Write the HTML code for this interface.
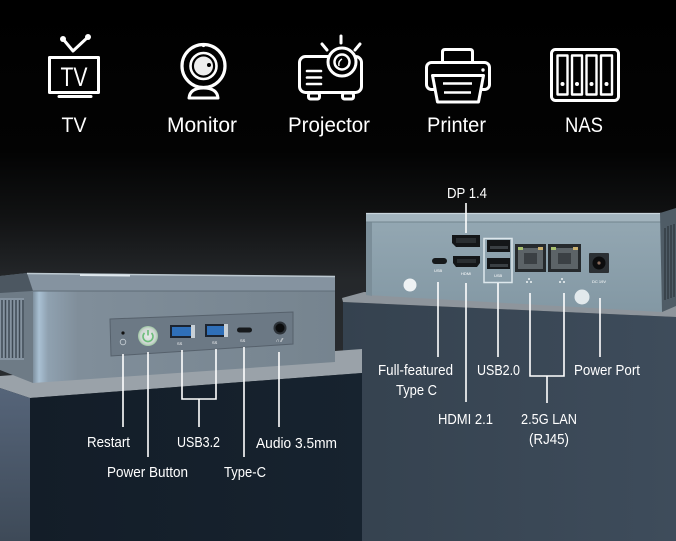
<!DOCTYPE html>
<html><head><meta charset="utf-8"><style>
html,body{margin:0;padding:0;background:#000;}
svg{display:block}
text{font-family:"Liberation Sans",sans-serif;fill:#fff}
</style></head><body>
<svg width="676" height="541" viewBox="0 0 676 541" xmlns="http://www.w3.org/2000/svg">
<defs>
<linearGradient id="bg" x1="0" y1="0" x2="0" y2="541" gradientUnits="userSpaceOnUse">
 <stop offset="0" stop-color="#000"/>
 <stop offset="0.28" stop-color="#030303"/>
 <stop offset="0.40" stop-color="#111213"/>
 <stop offset="0.52" stop-color="#25282b"/>
 <stop offset="1" stop-color="#2e3236"/>
</linearGradient>
<linearGradient id="lfront" x1="33" y1="0" x2="335" y2="0" gradientUnits="userSpaceOnUse">
 <stop offset="0" stop-color="#7e909f"/>
 <stop offset="0.02" stop-color="#a9c0d3"/>
 <stop offset="0.05" stop-color="#8fa1b0"/>
 <stop offset="0.15" stop-color="#808e9a"/>
 <stop offset="1" stop-color="#76848f"/>
</linearGradient>
<linearGradient id="rfront" x1="0" y1="222" x2="0" y2="312" gradientUnits="userSpaceOnUse">
 <stop offset="0" stop-color="#93a7b2"/>
 <stop offset="1" stop-color="#8398a4"/>
</linearGradient>
<linearGradient id="lped" x1="30" y1="0" x2="362" y2="0" gradientUnits="userSpaceOnUse">
 <stop offset="0" stop-color="#131d28"/>
 <stop offset="1" stop-color="#17232f"/>
</linearGradient>
<linearGradient id="rped" x1="343" y1="0" x2="676" y2="0" gradientUnits="userSpaceOnUse">
 <stop offset="0" stop-color="#35424f"/>
 <stop offset="1" stop-color="#3e4c5b"/>
</linearGradient>
<linearGradient id="lside" x1="0" y1="385" x2="0" y2="541" gradientUnits="userSpaceOnUse">
 <stop offset="0" stop-color="#56657a"/>
 <stop offset="1" stop-color="#3e4a58"/>
</linearGradient>
<radialGradient id="pwr" cx="0.5" cy="0.5" r="0.5">
 <stop offset="0" stop-color="#e6ebe8"/>
 <stop offset="0.75" stop-color="#cfd6d3"/>
 <stop offset="1" stop-color="#9fc9a4"/>
</radialGradient>
</defs>

<rect x="0" y="0" width="676" height="541" fill="url(#bg)"/>

<!-- ===== Top icons ===== -->
<g fill="none" stroke="#fff" stroke-width="3" stroke-linejoin="round" stroke-linecap="round">
 <!-- TV -->
 <polyline points="63,39 73,51 88,37"/>
 <rect x="49.5" y="57.5" width="49" height="35"/>
 <line x1="59" y1="96.5" x2="91" y2="96.5"/>
 <!-- Monitor (webcam) -->
 <circle cx="203.5" cy="66" r="21.5" stroke-width="3.2"/>
 <circle cx="203.5" cy="66" r="13" stroke-width="2.6"/>
 <path d="M189,98 Q190,88 203.5,88 Q217,88 218,98 Z"/>
 <!-- Projector -->
 <rect x="299.5" y="56.5" width="62" height="36" rx="6"/>
 <line x1="341" y1="36" x2="341" y2="43"/>
 <line x1="322" y1="44" x2="327" y2="50"/>
 <line x1="360" y1="44" x2="355" y2="50"/>
 <line x1="307" y1="71" x2="321" y2="71" stroke-width="2.6"/>
 <line x1="307" y1="77.5" x2="321" y2="77.5" stroke-width="2.6"/>
 <line x1="307" y1="84" x2="321" y2="84" stroke-width="2.6"/>
 <rect x="308.5" y="93" width="11" height="6" rx="2"/>
 <rect x="342.5" y="93" width="11" height="6" rx="2"/>
 <!-- Printer -->
 <path d="M442.5,62 V52 Q442.5,49.5 445,49.5 H470 Q472.5,49.5 472.5,52 V62"/>
 <rect x="426.5" y="62.5" width="63" height="27" rx="5"/>
 <!-- NAS -->
 <rect x="551.5" y="49.5" width="67" height="51" rx="4"/>
 <rect x="557.5" y="55.5" width="10" height="39" stroke-width="2.4"/>
 <rect x="572" y="55.5" width="10" height="39" stroke-width="2.4"/>
 <rect x="586.5" y="55.5" width="10" height="39" stroke-width="2.4"/>
 <rect x="601" y="55.5" width="11" height="39" stroke-width="2.4"/>
</g>
<circle cx="63" cy="39" r="3" fill="#fff"/>
<circle cx="88" cy="37" r="3" fill="#fff"/>
<text x="74" y="86" text-anchor="middle" font-size="27" textLength="27" lengthAdjust="spacingAndGlyphs">TV</text>
<circle cx="203.5" cy="66" r="9.5" fill="#eee"/>
<circle cx="209" cy="65" r="2" fill="#000"/>
<circle cx="203.5" cy="45.5" r="1.6" fill="#fff"/>
<circle cx="342" cy="62" r="14" fill="#000" stroke="#fff" stroke-width="3"/>
<circle cx="342" cy="62" r="7.5" fill="none" stroke="#fff" stroke-width="2.5"/>
<path d="M339,66 Q338,61 342,59" fill="none" stroke="#fff" stroke-width="1.5"/>
<path d="M432.5,75.5 H483.5 L478.5,102 H437.5 Z" fill="#000" stroke="#fff" stroke-width="3" stroke-linejoin="round"/>
<line x1="443" y1="83.5" x2="472" y2="83.5" stroke="#fff" stroke-width="2.6"/>
<line x1="444" y1="92.5" x2="471" y2="92.5" stroke="#fff" stroke-width="2.6"/>
<circle cx="483" cy="70" r="1.7" fill="#fff"/>
<circle cx="562.5" cy="84" r="2" fill="#fff"/>
<circle cx="577" cy="84" r="2" fill="#fff"/>
<circle cx="591.5" cy="84" r="2" fill="#fff"/>
<circle cx="606.5" cy="84" r="2" fill="#fff"/>

<g font-size="21" text-anchor="middle">
 <text x="74" y="132" textLength="25" lengthAdjust="spacingAndGlyphs">TV</text>
 <text x="202" y="132" textLength="70" lengthAdjust="spacingAndGlyphs">Monitor</text>
 <text x="329" y="132" textLength="82" lengthAdjust="spacingAndGlyphs">Projector</text>
 <text x="456.5" y="132" textLength="59" lengthAdjust="spacingAndGlyphs">Printer</text>
 <text x="584" y="132" textLength="38" lengthAdjust="spacingAndGlyphs">NAS</text>
</g>

<!-- ===== Right pedestal ===== -->
<polygon points="343,302 676,317 676,541 343,541" fill="url(#rped)"/>
<polygon points="342,298 364,292 676,306 676,317 343,302" fill="#8e959c"/>

<!-- ===== Right device ===== -->
<polygon points="366,222 662,222 662,312 366,295" fill="url(#rfront)"/>
<polygon points="366,222 372,222 372,296 366,295" fill="#7b8e99"/>
<polygon points="366,213 662,213 662,222 366,222" fill="#a2b4be"/>
<line x1="366" y1="213.5" x2="662" y2="213.5" stroke="#c9d6dd" stroke-width="1.2"/>
<line x1="366" y1="222" x2="662" y2="222" stroke="#72848f" stroke-width="1"/>
<polygon points="660,213 676,208 676,306 662,312" fill="#4f5c66"/>
<g stroke="#2f383f" stroke-width="1.3">
 <line x1="665" y1="228" x2="665" y2="300"/>
 <line x1="668" y1="226" x2="668" y2="299"/>
 <line x1="671" y1="225" x2="671" y2="298"/>
 <line x1="674" y1="224" x2="674" y2="297"/>
</g>
<!-- ports right -->
<rect x="432" y="258" width="15" height="6" rx="3" fill="#16191b"/>
<path d="M452,235 H480 V247 H456 L452,243 Z" fill="#141618"/>
<rect x="456" y="238" width="20" height="5" fill="#2a2e31"/>
<path d="M453,256 H480 V263 L477,267 H456 L453,263 Z" fill="#141618"/>
<rect x="457" y="259" width="19" height="4" fill="#2a2e31"/>
<rect x="484" y="238.5" width="28" height="44" fill="none" stroke="#dde7ec" stroke-width="1.5"/>
<rect x="487" y="240" width="23" height="12" fill="#141618"/>
<rect x="490" y="246" width="18" height="3" fill="#3a3f43"/>
<rect x="487" y="258" width="23" height="11" fill="#141618"/>
<rect x="490" y="264" width="18" height="3" fill="#3a3f43"/>
<rect x="515" y="244" width="31" height="28" fill="#262a2d"/>
<rect x="518" y="248" width="25" height="21" fill="#5c6367"/>
<rect x="524" y="253" width="13" height="11" fill="#3b4044"/>
<rect x="518" y="247" width="5" height="3" fill="#a8c070"/>
<rect x="538" y="247" width="5" height="3" fill="#c9b070"/>
<rect x="548" y="244" width="33" height="28" fill="#262a2d"/>
<rect x="551" y="248" width="27" height="21" fill="#5c6367"/>
<rect x="558" y="253" width="13" height="11" fill="#3b4044"/>
<rect x="551" y="247" width="5" height="3" fill="#a8c070"/>
<rect x="573" y="247" width="5" height="3" fill="#c9b070"/>
<rect x="589" y="253" width="20" height="20" rx="1" fill="#2b3034"/>
<circle cx="599" cy="263" r="6.5" fill="#0c0d0e"/>
<circle cx="599" cy="263" r="1.6" fill="#8a6a5a"/>
<circle cx="410" cy="285" r="6.5" fill="#eef2f4"/>
<circle cx="582" cy="297" r="7.5" fill="#e2e9ec"/>
<g fill="#dce6eb" font-size="4">
 <text x="434" y="272">USB</text>
 <text x="461" y="275">HDMI</text>
 <text x="494" y="277">USB</text>
 <text x="592" y="283">DC 19V</text>
</g>
<g fill="#eef3f5">
 <circle cx="527" cy="282" r="1"/><circle cx="531" cy="282" r="1"/><circle cx="529" cy="279" r="1"/>
 <circle cx="560" cy="282" r="1"/><circle cx="564" cy="282" r="1"/><circle cx="562" cy="279" r="1"/>
</g>

<!-- ===== Left pedestal ===== -->
<polygon points="0,376 362,349 362,373 30,398 0,388" fill="#9aa2a9"/>
<polygon points="30,398 362,373 362,541 30,541" fill="url(#lped)"/>
<polygon points="0,388 30,398 30,541 0,541" fill="url(#lside)"/>

<!-- ===== Left device ===== -->
<polygon points="0,276 27,273 33,291 33,383 0,370" fill="#6e7b86"/>
<rect x="0" y="298" width="24" height="62" fill="#8593a0"/>
<g stroke="#3f4a54" stroke-width="1.5">
 <line x1="2" y1="300" x2="2" y2="358"/>
 <line x1="5.5" y1="300" x2="5.5" y2="358"/>
 <line x1="9" y1="300" x2="9" y2="358"/>
 <line x1="12.5" y1="300" x2="12.5" y2="358"/>
 <line x1="16" y1="300" x2="16" y2="358"/>
 <line x1="19.5" y1="300" x2="19.5" y2="358"/>
 <line x1="23" y1="300" x2="23" y2="358"/>
</g>
<polygon points="0,276 27,273 33,291 0,293" fill="#4c5761"/>
<polygon points="33,291 335,291 335,362 33,383" fill="url(#lfront)"/>
<polygon points="27,273 335,276 335,291 33,291" fill="#8593a0"/>
<line x1="27" y1="273.5" x2="335" y2="276.5" stroke="#bcc8d0" stroke-width="1.5"/>
<line x1="80" y1="275" x2="130" y2="275.5" stroke="#dfe8ee" stroke-width="2"/>
<line x1="33" y1="291" x2="335" y2="291" stroke="#5f6c77" stroke-width="1"/>
<!-- panel -->
<polygon points="110,319 293,312 293,344 111,356" fill="#6c7985" stroke="#56616c" stroke-width="1"/>
<circle cx="123" cy="333" r="1.6" fill="#111"/>
<circle cx="123" cy="342" r="2.8" fill="none" stroke="#c8d0d6" stroke-width="0.8"/>
<circle cx="148" cy="336" r="10" fill="url(#pwr)"/>
<path d="M144.5,333 A5,5 0 1 0 151.5,333" fill="none" stroke="#6cbd7a" stroke-width="1.6"/>
<line x1="148" y1="330" x2="148" y2="335.5" stroke="#6cbd7a" stroke-width="1.6"/>
<rect x="170" y="325" width="25" height="13" fill="#1c2430"/>
<rect x="172" y="327" width="19" height="9" fill="#2f6fb8"/>
<rect x="191" y="325" width="4" height="13" fill="#c8d0d6"/>
<rect x="205" y="324" width="23" height="13" fill="#1c2430"/>
<rect x="207" y="326" width="17" height="9" fill="#2f6fb8"/>
<rect x="224" y="324" width="4" height="13" fill="#c8d0d6"/>
<rect x="237" y="327.5" width="15" height="5" rx="2.5" fill="#16191c"/>
<circle cx="280" cy="328" r="6.5" fill="#2c3238"/>
<circle cx="280" cy="328" r="4.5" fill="#0b0c0d"/>
<g fill="#8fb4e0" font-size="4">
 <text x="177" y="345">SS</text>
 <text x="212" y="344">SS</text>
 <text x="240" y="342">SS</text>
</g>
<text x="276" y="342" fill="#d0d6db" font-size="5">∩ ⁄⁄</text>

<!-- ===== Connector lines ===== -->
<g stroke="#fff" stroke-width="1.6" fill="none">
 <!-- left -->
 <line x1="123" y1="354" x2="123" y2="427"/>
 <line x1="148" y1="352" x2="148" y2="457"/>
 <polyline points="182,350 182,399 216,399 216,349"/>
 <line x1="199" y1="399" x2="199" y2="427"/>
 <line x1="244" y1="347" x2="244" y2="457"/>
 <line x1="279" y1="352" x2="279" y2="427"/>
 <!-- right -->
 <line x1="466" y1="203" x2="466" y2="233"/>
 <line x1="438" y1="282" x2="438" y2="357"/>
 <line x1="466" y1="283" x2="466" y2="402"/>
 <line x1="498" y1="283" x2="498" y2="357"/>
 <polyline points="530,293 530,376 564,376 564,293"/>
 <line x1="547" y1="376" x2="547" y2="403"/>
 <line x1="600" y1="298" x2="600" y2="357"/>
</g>

<!-- ===== Labels ===== -->
<g font-size="14.5" text-anchor="middle">
 <text x="108.5" y="447" textLength="43" lengthAdjust="spacingAndGlyphs">Restart</text>
 <text x="147.5" y="477" textLength="81" lengthAdjust="spacingAndGlyphs">Power Button</text>
 <text x="198.5" y="447" textLength="43" lengthAdjust="spacingAndGlyphs">USB3.2</text>
 <text x="245" y="477" textLength="42" lengthAdjust="spacingAndGlyphs">Type-C</text>
 <text x="296.5" y="448" textLength="81" lengthAdjust="spacingAndGlyphs">Audio 3.5mm</text>

 <text x="467" y="198" textLength="40" lengthAdjust="spacingAndGlyphs">DP 1.4</text>
 <text x="415.5" y="375" textLength="75" lengthAdjust="spacingAndGlyphs">Full-featured</text>
 <text x="416.5" y="395" textLength="41" lengthAdjust="spacingAndGlyphs">Type C</text>
 <text x="498.5" y="375" textLength="43" lengthAdjust="spacingAndGlyphs">USB2.0</text>
 <text x="607" y="375" textLength="66" lengthAdjust="spacingAndGlyphs">Power Port</text>
 <text x="465.5" y="424" textLength="55" lengthAdjust="spacingAndGlyphs">HDMI 2.1</text>
 <text x="549" y="424" textLength="56" lengthAdjust="spacingAndGlyphs">2.5G LAN</text>
 <text x="549" y="444" textLength="40" lengthAdjust="spacingAndGlyphs">(RJ45)</text>
</g>
</svg>
</body></html>
